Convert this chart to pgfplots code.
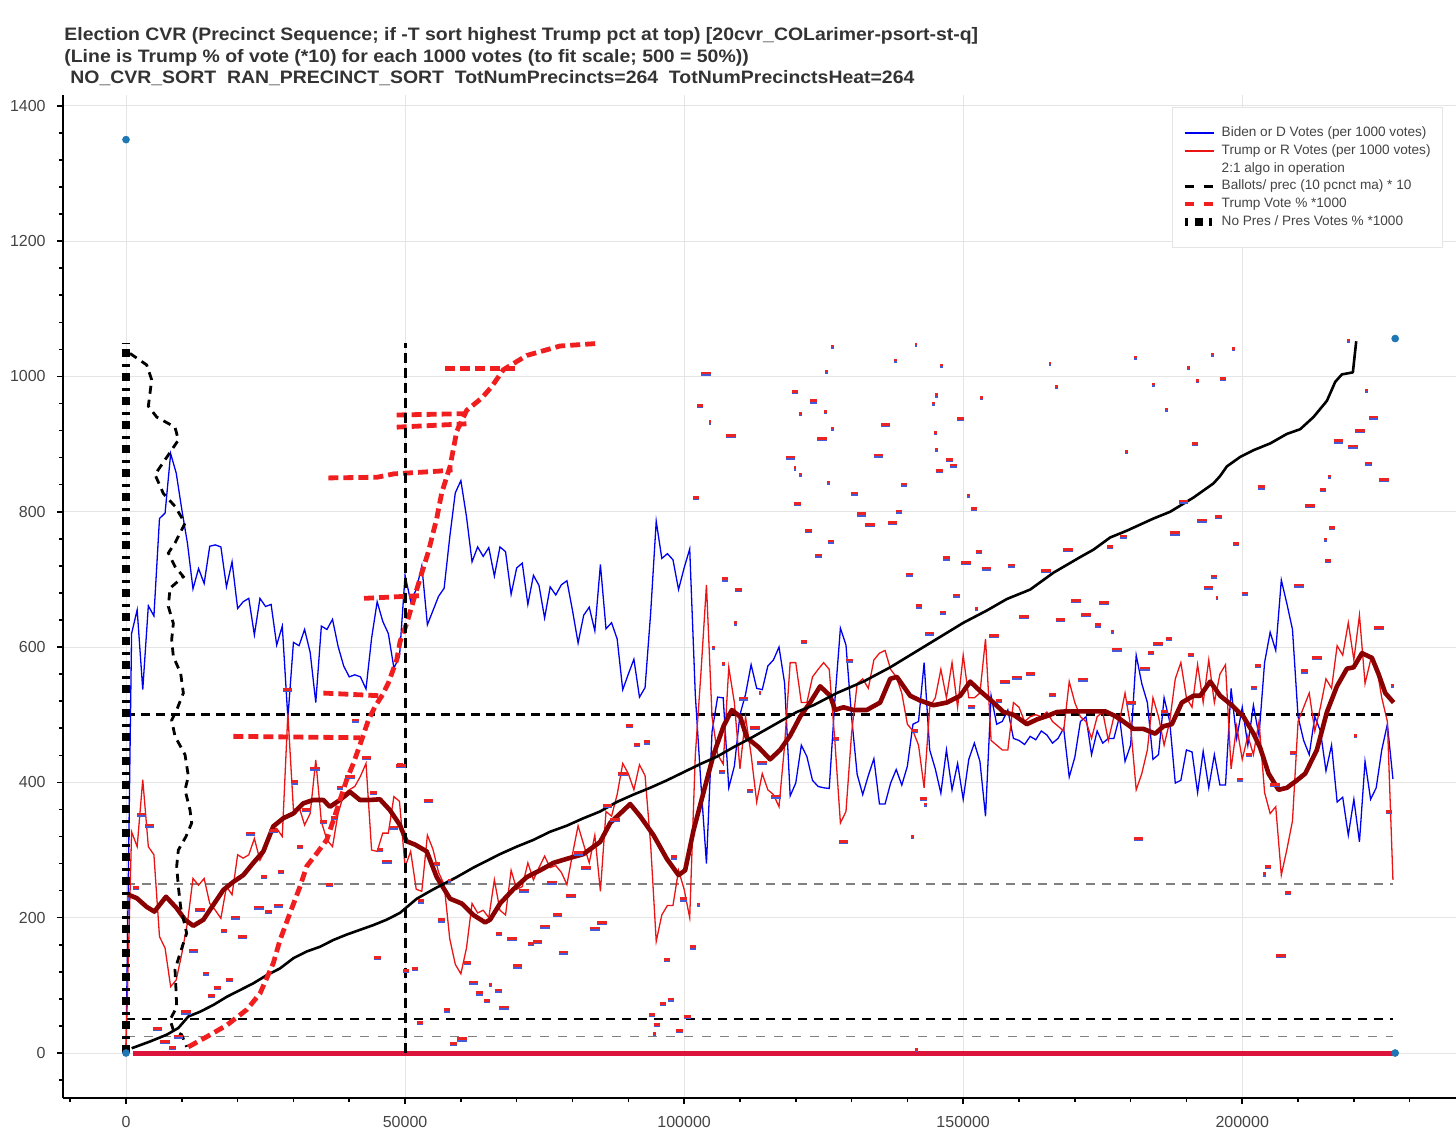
\documentclass[border=0pt]{standalone}
\usepackage{fontspec}
\setmainfont{Liberation Sans}
\usepackage{graphicx}
\usepackage{pgfplots}
\usepackage{pgfplotstable}
\pgfplotsset{compat=1.18}
\definecolor{tickgray}{HTML}{444444}
\definecolor{gridgray}{HTML}{E5E5E5}
\definecolor{dotblue}{HTML}{1F77B4}
\definecolor{mkblue}{RGB}{70,90,215}
\definecolor{mkred}{RGB}{235,35,35}
\definecolor{dred}{HTML}{8B0000}
\definecolor{crim}{HTML}{DC143C}
\definecolor{tred}{RGB}{240,30,30}
\definecolor{lblue}{RGB}{0,0,240}
\definecolor{lred}{RGB}{235,20,20}

\pgfplotstableread{
x y
0 0
1000 620
2000 655
3000 537
4000 661
5000 646
6000 790
7000 798
8000 886
9000 857
10000 803
11000 754
12000 686
13000 716
14000 694
15000 749
16000 751
17000 748
18000 689
19000 726
20000 657
21000 667
22000 672
23000 618
24000 672
25000 660
26000 663
27000 603
28000 631
29000 495
30000 607
31000 602
32000 626
33000 592
34000 518
35000 631
36000 626
37000 641
38000 601
39000 572
40000 556
41000 559
42000 556
43000 538
44000 613
45000 667
46000 638
47000 620
48000 569
49000 586
50000 706
51000 668
52000 685
53000 720
54000 633
55000 654
56000 675
57000 687
58000 762
59000 828
60000 846
61000 793
62000 726
63000 748
64000 734
65000 747
66000 705
67000 748
68000 741
69000 678
70000 717
71000 724
72000 663
73000 706
74000 691
75000 643
76000 689
77000 677
78000 692
79000 698
80000 654
81000 606
82000 647
83000 659
84000 624
85000 722
86000 627
87000 636
88000 612
89000 537
90000 560
91000 582
92000 526
93000 540
94000 650
95000 786
96000 731
97000 738
98000 729
99000 685
100000 717
101000 745
102000 530
103000 399
104000 280
105000 475
106000 526
107000 525
108000 392
109000 424
110000 500
111000 530
112000 574
113000 539
114000 537
115000 572
116000 581
117000 600
118000 547
119000 380
120000 399
121000 455
122000 438
123000 403
124000 394
125000 392
126000 391
127000 520
128000 628
129000 603
130000 497
131000 412
132000 382
133000 410
134000 435
135000 368
136000 368
137000 399
138000 419
139000 396
140000 424
141000 486
142000 490
143000 577
144000 448
145000 420
146000 384
147000 448
148000 389
149000 428
150000 375
151000 434
152000 458
153000 431
154000 350
155000 528
156000 486
157000 490
158000 507
159000 465
160000 462
161000 456
162000 468
163000 463
164000 476
165000 470
166000 458
167000 465
168000 480
169000 408
170000 437
171000 490
172000 497
173000 441
174000 476
175000 458
176000 465
177000 465
178000 497
179000 431
180000 455
181000 588
182000 546
183000 518
184000 434
185000 441
186000 525
187000 490
188000 399
189000 403
190000 448
191000 445
192000 385
193000 446
194000 392
195000 441
196000 396
197000 396
198000 539
199000 465
200000 511
201000 455
202000 514
203000 469
204000 577
205000 622
206000 595
207000 699
208000 664
209000 626
210000 497
211000 462
212000 441
213000 497
214000 476
215000 417
216000 455
217000 371
218000 378
219000 322
220000 375
221000 312
222000 431
223000 375
224000 392
225000 448
226000 486
227000 405
}\biden

\pgfplotstableread{
x y
0 5
1000 327
2000 305
3000 404
4000 305
5000 293
6000 172
7000 155
8000 98
9000 108
10000 147
11000 192
12000 258
13000 248
14000 258
15000 221
16000 211
17000 199
18000 246
19000 234
20000 293
21000 288
22000 293
23000 317
24000 285
25000 300
26000 330
27000 332
28000 320
29000 502
30000 359
31000 364
32000 337
33000 354
34000 433
35000 342
36000 315
37000 305
38000 354
39000 382
40000 389
41000 394
42000 409
43000 428
44000 300
45000 298
46000 325
47000 325
48000 379
49000 372
50000 275
51000 298
52000 242
53000 239
54000 322
55000 301
56000 267
57000 249
58000 169
59000 131
60000 117
61000 155
62000 221
63000 207
64000 211
65000 200
66000 256
67000 211
68000 204
69000 270
70000 242
71000 246
72000 281
73000 256
74000 274
75000 291
76000 274
77000 277
78000 267
79000 249
80000 294
81000 336
82000 308
83000 281
84000 322
85000 239
86000 357
87000 350
88000 382
89000 428
90000 413
91000 389
92000 426
93000 410
94000 308
95000 165
96000 204
97000 218
98000 218
99000 270
100000 242
101000 200
102000 440
103000 560
104000 692
105000 497
106000 441
107000 427
108000 570
109000 518
110000 420
111000 497
112000 441
113000 371
114000 413
115000 389
116000 382
117000 364
118000 455
119000 577
120000 577
121000 518
122000 518
123000 556
124000 567
125000 577
126000 567
127000 462
128000 340
129000 357
130000 472
131000 546
132000 553
133000 539
134000 581
135000 591
136000 595
137000 567
138000 556
139000 532
140000 486
141000 476
142000 455
143000 392
144000 511
145000 525
146000 567
147000 525
148000 577
149000 511
150000 588
151000 525
152000 525
153000 532
154000 612
155000 462
156000 455
157000 448
158000 448
159000 518
160000 511
161000 490
162000 497
163000 500
164000 497
165000 504
166000 490
167000 483
168000 476
169000 549
170000 518
171000 497
172000 490
173000 465
174000 497
175000 504
176000 462
177000 497
178000 490
179000 532
180000 483
181000 389
182000 413
183000 448
184000 525
185000 497
186000 455
187000 490
188000 553
189000 577
190000 525
191000 511
192000 574
193000 518
194000 581
195000 518
196000 560
197000 574
198000 420
199000 483
200000 434
201000 469
202000 441
203000 490
204000 385
205000 354
206000 364
207000 263
208000 301
209000 343
210000 490
211000 511
212000 532
213000 476
214000 511
215000 553
216000 539
217000 602
218000 588
219000 636
220000 581
221000 647
222000 546
223000 581
224000 574
225000 525
226000 490
227000 256
}\trump

\pgfplotstableread{
x y
419 234
1910 229
3700 216
5080 209
7170 231
9080 214
10570 197
12060 188
13860 197
15650 219
17440 241
19230 253
21020 263
22810 281
24600 298
26390 335
28180 347
29970 354
31760 369
33550 374
35340 374
36540 364
38330 374
40120 386
41910 374
43700 374
45490 375
47280 359
49070 337
50260 313
51790 308
53880 298
55670 260
58060 228
60150 221
62240 204
64340 193
65230 197
67020 221
69410 242
71800 260
74190 270
76580 281
78980 287
81960 294
84950 312
86750 340
88540 354
90330 368
92120 350
94510 322
96900 287
98990 263
100180 270
101680 329
103470 385
105270 441
107060 483
108550 507
110050 497
111240 466
113330 452
115400 434
117200 448
118990 469
120780 497
122570 518
124370 542
126160 528
127050 507
128550 511
130340 507
132730 507
135120 518
136920 553
138110 556
140500 528
142290 521
144680 514
147070 518
149460 528
151250 549
153040 535
155430 518
157220 504
159020 500
161410 486
163200 493
165000 498
166790 504
168580 505
170970 505
173350 505
175440 505
177530 497
180520 479
182310 479
184400 472
185900 483
187390 486
189180 518
191270 528
192470 528
194260 549
196050 528
198140 514
200230 497
202020 472
203220 451
204710 413
206500 389
208000 392
209790 403
211280 413
213370 448
215170 504
216960 542
218750 568
219950 570
221450 591
223240 584
224430 560
225630 532
227120 518
}\trumpma

\pgfplotstableread{
x y
1016 7
4300 17
7290 27
9380 37
11170 54
13260 61
15650 71
18040 83
20430 93
22810 103
25200 115
27590 125
29970 140
32360 150
34750 157
37140 167
39530 175
41910 182
44300 189
46690 197
49070 207
52090 228
55080 242
59260 260
62240 274
67020 294
70010 305
73000 315
75980 327
78980 336
81960 347
84950 357
87940 371
90930 382
93920 392
96900 403
99890 415
102880 427
105870 438
108850 452
111840 465
117200 490
120180 504
123170 514
127350 532
132130 549
136910 570
141090 591
145870 615
150050 636
154230 654
157820 671
162000 685
166190 710
170970 733
173350 744
176340 762
179320 772
184100 790
187090 800
191270 821
194860 842
196050 853
197240 867
199630 881
202020 891
205010 901
207990 915
210380 922
212770 940
215170 964
216660 992
217850 1003
219820 1006
220420 1052
}\cumul

\pgfplotstableread{
x y
717 1034
3704 1017
4600 995
4002 956
5496 940
8781 925
9378 906
7586 884
5197 855
6690 827
8781 808
10573 783
8781 754
7586 739
8781 719
10274 704
7885 687
7586 660
8482 635
8184 611
8482 586
9796 561
10274 532
9080 507
8184 492
8781 468
10573 441
11170 409
10573 389
11469 359
11768 340
10752 320
9378 300
9080 276
9378 246
9800 215
10870 177
9670 147
8781 123
8960 93
9080 68
7885 49
8480 34
9975 27
10870 9
}\ballots

\pgfplotstableread{
x y
11170 9
14456 24
18040 41
21624 64
24013 88
26402 133
27597 167
29389 207
31181 246
32376 276
34168 295
35960 315
37154 344
38349 374
39544 404
40737 428
42232 463
43426 492
44621 512
46000 530
47010 547
48504 581
49101 608
50296 635
51192 660
52088 685
54180 741
55670 790
56570 828
58060 867
59260 919
61050 950
63740 968
65530 985
67620 1010
71800 1031
77770 1045
84940 1049
}\tvote

\pgfplotstableread{
x y
104650 933
109140 636
105250 600
107040 576
57930 256
65250 101
94620 29
102560 220
113610 533
119880 865
120780 945
120780 856
125440 1008
126580 1045
125260 948
126580 924
125850 844
137940 1024
140910 320
141560 1048
143300 368
144680 961
145160 973
146170 1017
144980 917
145160 893
151010 825
152380 657
153280 969
165540 1020
166730 985
170800 553
176760 624
179320 889
180930 1029
184100 989
186480 952
190370 1013
192050 994
194680 1033
195460 673
198500 1041
203940 265
214980 760
215700 853
219100 1054
220240 469
222210 980
226920 544
141570 5
}\mkS

\pgfplotstableread{
x y
1790 245
8360 8
14340 118
15350 85
16370 97
17560 181
18520 109
24730 261
25510 209
27720 268
30280 401
31170 305
35360 342
36430 249
37270 348
38350 393
41150 492
44310 385
45520 301
45030 141
50170 122
52700 45
102860 957
102080 821
107340 701
109730 685
49100 426
55670 280
56560 197
52810 225
51790 125
57460 64
58660 14
61170 134
63340 89
64650 78
66720 93
66820 177
72560 162
90200 484
91520 456
93310 460
94200 57
95100 42
96170 73
97600 80
96890 138
98200 290
99160 33
100590 54
101550 157
99880 228
106740 417
111820 389
119880 978
120300 812
122270 772
123170 964
124070 736
126340 757
121440 608
127230 465
129610 581
130500 828
138520 801
139420 841
140370 708
142040 661
141390 477
142880 376
145760 861
147550 877
148260 869
146400 652
147000 732
148800 677
149520 938
151900 805
151490 513
152800 741
156460 521
158670 721
166010 530
174120 633
176330 749
178720 764
183690 592
186060 505
186900 613
190790 589
191570 901
194980 705
195760 793
196530 997
198860 753
199630 405
200520 680
201240 441
202140 541
202800 573
203460 837
204590 276
208180 237
209200 444
211160 565
214440 833
215340 728
216060 777
222630 872
226320 357
}\mkM

\pgfplotstableread{
x y
2808 353
4181 337
5615 36
6990 17
9380 25
10750 61
12070 152
13260 212
19590 201
20900 172
22340 325
23830 216
26400 329
27300 219
28910 537
32370 360
33860 421
40130 409
43120 437
46710 284
47910 334
49220 425
103940 1005
108420 913
54180 373
60150 21
62240 105
67730 68
69110 169
70120 129
71310 241
73710 165
75090 188
76290 253
77300 205
78380 149
79750 233
81060 296
82400 274
84020 185
85240 193
86260 366
87630 345
89010 413
110640 525
112720 481
113910 430
116470 380
119090 881
124660 908
128540 313
131810 797
133300 781
134790 884
136100 929
137330 784
143960 621
150470 725
154180 717
155500 617
157470 549
159690 556
160940 645
162070 561
164820 713
167450 641
168820 744
170200 669
171430 553
172030 648
175250 666
177520 597
180040 518
181410 317
182610 569
184870 605
187980 769
189470 816
192770 788
193960 689
205900 397
206980 144
210210 692
212180 809
213370 585
217250 905
219820 897
221130 920
223530 940
224540 629
225430 848
}\mkL

\begin{document}
\begin{tikzpicture}
\begin{axis}[
  at={(0,0)}, anchor=south west,
  scale only axis, width=696.5pt, height=501.5pt,
  xmin=-11290, xmax=238300, ymin=-66.5, ymax=1416,
  axis lines*=left,
  axis line style={line width=0.8pt, black, -},
  xtick={0,50000,100000,150000,200000},
  minor xtick={-10000,0,...,230000},
  ytick={0,200,...,1400},
  minor ytick={-40,0,...,1400},
  tick align=outside,
  major tick length=3pt, minor tick length=2pt,
  every tick/.style={black, line width=0.8pt},
  xmajorgrids, ymajorgrids,
  major grid style={gridgray, line width=0.5pt},
  scaled x ticks=false, scaled y ticks=false,
  /pgf/number format/assume math mode=true,
  /pgf/number format/1000 sep={},
  /pgf/number format/fixed,
  ticklabel style={font=\fontsize{8}{10}\selectfont, text=tickgray},
  yticklabel style={inner sep=0pt, xshift=-5.5pt},
  xticklabel style={inner sep=0pt, yshift=-6pt},
  legend cell align=left,
  legend image code/.code={\draw[#1] (0pt,0pt) -- (14.5pt,0pt);},
  legend style={at={(0.9907,0.988)}, anchor=north east,
    draw=gridgray, fill=white, line width=0.5pt,
    font=\fontsize{6.8}{8}\selectfont, text=tickgray,
    inner xsep=4pt, inner ysep=7.5pt, row sep=-1.5pt},
]
% horizontal reference lines
\addplot[forget plot, gray, line width=1pt, dash pattern=on 4.5pt off 3.5pt] coordinates {(0,250) (227000,250)};
\addplot[forget plot, gray, line width=0.5pt, dash pattern=on 4.5pt off 4.5pt] coordinates {(0,25) (227000,25)};
\addplot[forget plot, black, line width=1pt, dash pattern=on 4.5pt off 3.5pt] coordinates {(0,50) (227000,50)};
\addplot[forget plot, black, line width=1.5pt, dash pattern=on 4.5pt off 3pt] coordinates {(0,500) (227000,500)};
\addplot[forget plot, crim, line width=2.5pt] coordinates {(1250,0) (227000,0)};
% vote lines
\addplot[forget plot, lblue, line width=0.65pt] table {\biden};
\addplot[forget plot, lred, line width=0.65pt] table {\trump};
% precinct markers
\addplot[forget plot, only marks, mark=-, mark size=0.7pt, mark options={draw=mkblue, line width=1.2pt, yshift=-0.8pt}] table {\mkS};
\addplot[forget plot, only marks, mark=-, mark size=0.7pt, mark options={draw=mkred, line width=1.3pt}] table {\mkS};
\addplot[forget plot, only marks, mark=-, mark size=1.6pt, mark options={draw=mkblue, line width=1.2pt, yshift=-0.8pt}] table {\mkM};
\addplot[forget plot, only marks, mark=-, mark size=1.6pt, mark options={draw=mkred, line width=1.3pt}] table {\mkM};
\addplot[forget plot, only marks, mark=-, mark size=2.4pt, mark options={draw=mkblue, line width=1.2pt, yshift=-0.8pt}] table {\mkL};
\addplot[forget plot, only marks, mark=-, mark size=2.4pt, mark options={draw=mkred, line width=1.3pt}] table {\mkL};
% moving average and cumulative
\addplot[forget plot, dred, line width=2.3pt, line join=round] table {\trumpma};
\addplot[forget plot, black, line width=1.3pt, line join=round] table {\cumul};
\addplot[forget plot, black, line width=1.4pt, dash pattern=on 4pt off 3pt] table {\ballots};
% Trump vote % curve and its horizontal runs
\addplot[forget plot, tred, line width=2.4pt, dash pattern=on 5pt off 2.5pt] table {\tvote};
\addplot[forget plot, tred, line width=2.4pt, dash pattern=on 5pt off 2.5pt] coordinates {(19230,468) (41930,466)};
\addplot[forget plot, tred, line width=2.4pt, dash pattern=on 5pt off 2.5pt] coordinates {(35360,532) (45520,528)};
\addplot[forget plot, tred, line width=2.4pt, dash pattern=on 5pt off 2.5pt] coordinates {(42650,672) (52680,676)};
\addplot[forget plot, tred, line width=2.4pt, dash pattern=on 5pt off 2.5pt] coordinates {(36260,850) (45000,851) (48000,856) (52000,858) (56000,860) (58500,862)};
\addplot[forget plot, tred, line width=2.4pt, dash pattern=on 5pt off 2.5pt] coordinates {(48500,943) (61000,945)};
\addplot[forget plot, tred, line width=2.4pt, dash pattern=on 5pt off 2.5pt] coordinates {(48500,925) (61000,930)};
\addplot[forget plot, tred, line width=2.4pt, dash pattern=on 5pt off 2.5pt] coordinates {(57160,1012) (70250,1012)};
% verticals
\addplot[forget plot, black, line width=1.5pt, dash pattern=on 5pt off 2.5pt] coordinates {(50000,0) (50000,1050)};
\addplot[forget plot, black, line width=4pt, dash pattern=on 4pt off 3pt on 1.5pt off 3.5pt] coordinates {(0,0) (0,1050)};
% corner dots
\addplot[forget plot, only marks, mark=*, mark size=1.7pt, mark options={draw=dotblue, fill=dotblue}] coordinates {(0,1350) (227400,1056) (0,0) (227400,0)};
% legend
\addlegendimage{color=lblue, line width=0.8pt}
\addlegendentry{Biden or D Votes (per 1000 votes)}
\addlegendimage{color=lred, line width=0.8pt}
\addlegendentry{Trump or R Votes (per 1000 votes)}
\addlegendimage{color=white, line width=0.1pt}
\addlegendentry{2:1 algo in operation}
\addlegendimage{color=black, line width=1.4pt, dash pattern=on 4.5pt off 5pt}
\addlegendentry{Ballots/ prec (10 pcnct ma) * 10}
\addlegendimage{color=tred, line width=2pt, dash pattern=on 4.5pt off 5pt}
\addlegendentry{Trump Vote \% *1000}
\addlegendimage{color=black, line width=4pt, dash pattern=on 4pt off 3pt on 1.5pt off 3.5pt, dash phase=7pt}
\addlegendentry{No Pres / Pres Votes \% *1000}
\end{axis}
\node[anchor=base west, inner sep=0pt, text=black!80, font=\bfseries\fontsize{9}{11}\selectfont] at (0.5pt,528.5pt) {\scalebox{1.08}[1]{Election CVR (Precinct Sequence; if -T sort highest Trump pct at top) [20cvr\_COLarimer-psort-st-q]}};
\node[anchor=base west, inner sep=0pt, text=black!80, font=\bfseries\fontsize{9}{11}\selectfont] at (0.5pt,517.5pt) {\scalebox{1.08}[1]{(Line is Trump \% of vote (*10) for each 1000 votes (to fit scale; 500 = 50\%))}};
\node[anchor=base west, inner sep=0pt, text=black!80, font=\bfseries\fontsize{9}{11}\selectfont] at (3.5pt,507pt) {\scalebox{1.08}[1]{NO\_CVR\_SORT\ \ RAN\_PRECINCT\_SORT\ \ TotNumPrecincts=264\ \ TotNumPrecinctsHeat=264}};
\pgfresetboundingbox
\path[use as bounding box] (-31.5pt,-18pt) rectangle (696.5pt,549pt);
\end{tikzpicture}
\end{document}
